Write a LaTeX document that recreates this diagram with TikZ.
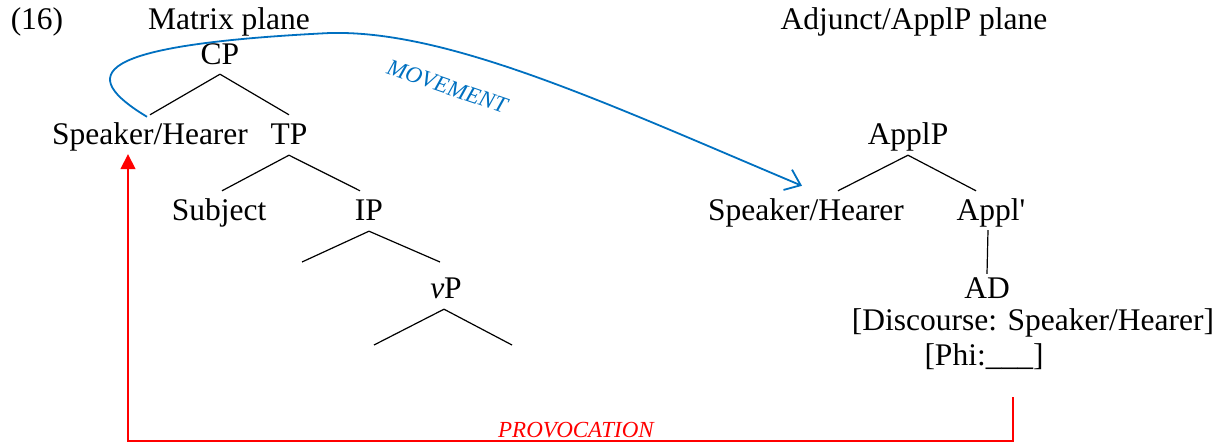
\documentclass[tikz,border=0pt]{standalone}
\usepackage{fontspec}
\setmainfont{Liberation Serif}
\newfontfamily\plainserif{Liberation Serif}[Ligatures=TeXOff]
\usetikzlibrary{arrows.meta,calc}
\definecolor{movblue}{RGB}{0,112,192}

\begin{document}
\begin{tikzpicture}[x=1pt,y=-1pt,
		font=\fontsize{31.5}{36}\selectfont,
		every node/.style={inner sep=0pt,text height=21pt,text depth=7pt},
		branch/.style={black,line width=1.2pt},
		movement/.style={movblue,line width=1.8pt,-{Straight Barb[length=14pt,width=22pt,line width=1.8pt]}},
		provocation/.style={red,line width=1.6pt,-{Triangle[length=15pt,width=15pt]}},
		tag/.style={font=\itshape\fontsize{23}{26}\selectfont,text height=16pt,text depth=2pt}]
		\useasboundingbox (0,0) rectangle (1221,447);
		
		% headings
		\node (ex) at (37,22) {(16)};
		\node (mplane) at (229,22) {Matrix plane};
		\node (aplane) at (914,22) {Adjunct/ApplP plane};
		
		% matrix plane
		\node (CP) at (220,57) {CP};
		\node (SH) at (150,137) {Speaker/Hearer};
		\node (TP) at (289,137) {TP};
		\node (Subj) at (219,213) {Subject};
		\node (IP) at (369,213) {IP};
		\node (vP) at (446,291) {\textit{v}P};
		\coordinate (IPl) at (302,262);
		\coordinate (IPr) at (440,262);
		\coordinate (vPl) at (374,345);
		\coordinate (vPr) at (512,345);
		
		% adjunct plane
		\node (ApplP) at (908,137) {ApplP};
		\node (SH2) at (806,213) {Speaker/Hearer};
		\node (Applb) at (991,213) {\plainserif Appl'};
		\node (AD) at (987,291) {AD};
		\node (disc) at (1033,323) {[Discourse: Speaker/Hearer]};
		\node (phi) at (984,358) {[Phi:\_\_\_]};
		
		\draw[branch] ([yshift=-3pt]CP.south) -- ([yshift=8pt]SH.north);
		\draw[branch] ([yshift=-3pt]CP.south) -- ([yshift=8pt]TP.north);
		\draw[branch] ([yshift=-4pt]TP.south) -- ([yshift=8pt,xshift=3pt]Subj.north);
		\draw[branch] ([yshift=-4pt]TP.south) -- ([yshift=8pt,xshift=-9pt]IP.north);
		\draw[branch] ([yshift=-4pt]IP.south) -- (IPl);
		\draw[branch] ([yshift=-4pt]IP.south) -- (IPr);
		\draw[branch] ([yshift=-4pt,xshift=-2pt]vP.south) -- (vPl);
		\draw[branch] ([yshift=-4pt,xshift=-2pt]vP.south) -- (vPr);
		\draw[branch] ([yshift=-4pt]ApplP.south) -- ([yshift=8pt,xshift=32pt]SH2.north);
		\draw[branch] ([yshift=-4pt]ApplP.south) -- ([yshift=8pt,xshift=-15pt]Applb.north);
		\draw[branch] ([yshift=-3pt,xshift=-3pt]Applb.south) -- ([yshift=3pt]AD.north);
		
		% movement
		\coordinate (mvtop) at (330,33);
		\draw[movement] ([xshift=-3pt,yshift=6pt]SH.north) .. controls (78,75) and (88,45) .. (mvtop)
			.. controls (450,30) and (610,105) .. ([xshift=-4pt,yshift=13pt]SH2.north);
		\node[tag,text=movblue,rotate=-19] (mv) at (447,87) {MOVEMENT};
		
		% provocation
		\coordinate (pvstart) at (1013,397);
		\draw[provocation] (pvstart) -- ++(0,44) -| ([xshift=-22pt,yshift=-3pt]SH.south);
		\node[tag,text=red] (pv) at (576,430) {PROVOCATION};
\end{tikzpicture}
\end{document}
